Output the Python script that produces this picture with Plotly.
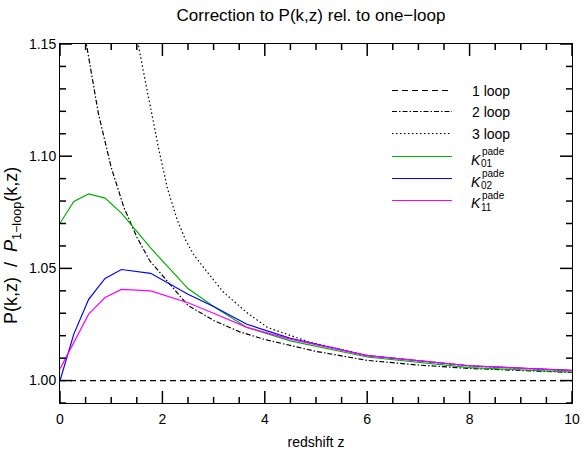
import plotly.graph_objects as go

# ---- data ----
Z_1LOOP = [0.0, 10.0]
ONE_LOOP = [1.0, 1.0]

Z_2LOOP = [0.3, 0.5, 0.75, 1.0, 1.25, 1.5, 1.75, 2.0, 2.5, 3.0, 3.5, 4.0, 5.0, 6.0, 7.0, 8.0, 9.0, 10.0]
TWO_LOOP = [1.19, 1.152, 1.119, 1.095, 1.077, 1.064, 1.0535, 1.047, 1.0335, 1.0268, 1.0218, 1.0183,
            1.0130, 1.0090, 1.0069, 1.0054, 1.0044, 1.0036]

Z_3LOOP = [1.4, 1.52, 1.67, 1.93, 2.10, 2.29, 2.45, 2.6, 2.81, 3.2, 3.65, 4.05, 4.89, 6.0, 8.0, 10.0]
THREE_LOOP = [1.165, 1.150, 1.133, 1.103, 1.0855, 1.0716, 1.0628, 1.0565, 1.0502, 1.0392, 1.0303,
              1.0237, 1.0170, 1.0112, 1.0065, 1.0044]

Z_PADE = [0.0, 0.27, 0.56, 0.88, 1.2, 1.77, 2.5, 3.0, 3.65, 4.5, 6.0, 8.0, 10.0]
K01 = [1.0701, 1.0798, 1.0832, 1.0813, 1.0746, 1.0591, 1.0410, 1.0330, 1.0237, 1.0177, 1.0105, 1.0058, 1.0038]
K02 = [1.0000, 1.0207, 1.0362, 1.0455, 1.0495, 1.0478, 1.0385, 1.0330, 1.0251, 1.0188, 1.0111, 1.0066, 1.0045]
K11 = [1.0052, 1.0170, 1.0296, 1.0370, 1.0406, 1.0400, 1.0347, 1.0300, 1.0237, 1.0185, 1.0111, 1.0066, 1.0044]

# tick positions
X_MAJOR = [0, 2, 4, 6, 8, 10]
X_MINOR = [i * 0.5 for i in range(1, 20) if i % 4]
Y_MAJOR = [1.00, 1.05, 1.10, 1.15]
Y_MINOR = [round(0.99 + 0.01 * i, 2) for i in range(16) if i % 5 != 1]

FONT = "Liberation Sans, Arial, sans-serif"
W, H = 581, 450
L, R, T, B = 60, 9, 44, 47
PW, PH = W - L - R, H - T - B

series = [
    ("1 loop", Z_1LOOP, ONE_LOOP, "black", "6px,4px", None),
    ("2 loop", Z_2LOOP, TWO_LOOP, "black", "5px,2px,1.5px,2px", None),
    ("3 loop", Z_3LOOP, THREE_LOOP, "black", "1.5px,2.5px", None),
    ("K", Z_PADE, K01, "#00b000", "solid", "01"),
    ("K", Z_PADE, K02, "#0000ff", "solid", "02"),
    ("K", Z_PADE, K11, "#ff00ff", "solid", "11"),
]

fig = go.Figure()
for name, x, y, col, dash, sub in series:
    fig.add_trace(go.Scatter(x=x, y=y, mode="lines", showlegend=False,
                             line=dict(color=col, width=1.2, dash=dash)))

# inward ticks on all four sides, drawn as short segments on hidden overlay axes
# (y2 measures pixels up from the bottom frame, x2 pixels right from the left frame)
tx, ty = [], []
for vals, ln in [(X_MAJOR, 12), (X_MINOR, 6)]:
    for v in vals:
        tx += [v, v, None, v, v, None]
        ty += [0, ln, None, PH, PH - ln, None]
fig.add_trace(go.Scatter(x=tx, y=ty, xaxis="x", yaxis="y2", mode="lines", showlegend=False,
                         hoverinfo="skip", cliponaxis=False, line=dict(color="black", width=1.5)))
sx, sy = [], []
for vals, ln in [(Y_MAJOR, 12), (Y_MINOR, 6)]:
    for v in vals:
        sx += [0, ln, None, PW, PW - ln, None]
        sy += [v, v, None, v, v, None]
fig.add_trace(go.Scatter(x=sx, y=sy, xaxis="x2", yaxis="y", mode="lines", showlegend=False,
                         hoverinfo="skip", cliponaxis=False, line=dict(color="black", width=1.5)))


def px(x):
    return (x - L) / PW


def py(y):
    return (H - B - y) / PH


# legend drawn by hand so the K sub/superscripts stack like the original
rows = [90.5, 111.5, 133.5, 156.5, 178.5, 200.5]
for (name, x, y, col, dash, sub), ry in zip(series, rows):
    fig.add_shape(type="line", xref="paper", yref="paper", layer="above",
                  x0=px(392), x1=px(452), y0=py(ry), y1=py(ry),
                  line=dict(color=col, width=1.2, dash=dash))
    if sub is None:
        fig.add_annotation(x=px(470), y=py(ry), xref="paper", yref="paper",
                           text=name, showarrow=False, xanchor="left", yanchor="middle",
                           font=dict(size=14, family=FONT, color="black"))
    else:
        fig.add_annotation(x=px(469), y=py(ry + 3), xref="paper", yref="paper",
                           text="<i>K</i>", showarrow=False, xanchor="left", yanchor="middle",
                           font=dict(size=14, family=FONT, color="black"))
        fig.add_annotation(x=px(480), y=py(ry - 5), xref="paper", yref="paper",
                           text="pade", showarrow=False, xanchor="left", yanchor="middle",
                           font=dict(size=10, family=FONT, color="black"))
        fig.add_annotation(x=px(479), y=py(ry + 7), xref="paper", yref="paper",
                           text=sub, showarrow=False, xanchor="left", yanchor="middle",
                           font=dict(size=10, family=FONT, color="black"))

fig.add_annotation(x=px(13), y=py(246), xref="paper", yref="paper", textangle=-90,
                   text="P(k,z)\u00a0 /\u00a0 <i>P</i><sub>1\u2212loop</sub>(k,z)",
                   showarrow=False, xanchor="center", yanchor="middle",
                   font=dict(size=18, family=FONT, color="black"))

axis_common = dict(
    showline=True, linecolor="black", linewidth=1, mirror=True, ticks="",
    showgrid=False, zeroline=False, automargin=False,
    tickfont=dict(size=14, family=FONT, color="black"),
)

fig.update_layout(
    template="none",
    width=W, height=H,
    margin=dict(l=L, r=R, t=T, b=B),
    paper_bgcolor="white", plot_bgcolor="white",
    xaxis=dict(range=[0, 10], tickvals=X_MAJOR, ticklabelstandoff=3,
               title=dict(text="redshift z", font=dict(size=14, family=FONT, color="black"),
                          standoff=12),
               **axis_common),
    yaxis=dict(range=[0.99, 1.15], tickvals=Y_MAJOR, tickformat=".2f", **axis_common),
    xaxis2=dict(overlaying="x", range=[0, PW], visible=False, showgrid=False, zeroline=False),
    yaxis2=dict(overlaying="y", range=[0, PH], visible=False, showgrid=False, zeroline=False),
    title=dict(text="Correction to P(k,z) rel. to one\u2212loop", x=311 / W, xref="container",
               xanchor="center", y=1 - 15 / H, yref="container", yanchor="middle",
               font=dict(size=17, family=FONT, color="black")),
    font=dict(family=FONT, color="black"),
)

fig.write_html("out.html", config={"displayModeBar": False},
               post_script="document.body.style.margin='0';")
